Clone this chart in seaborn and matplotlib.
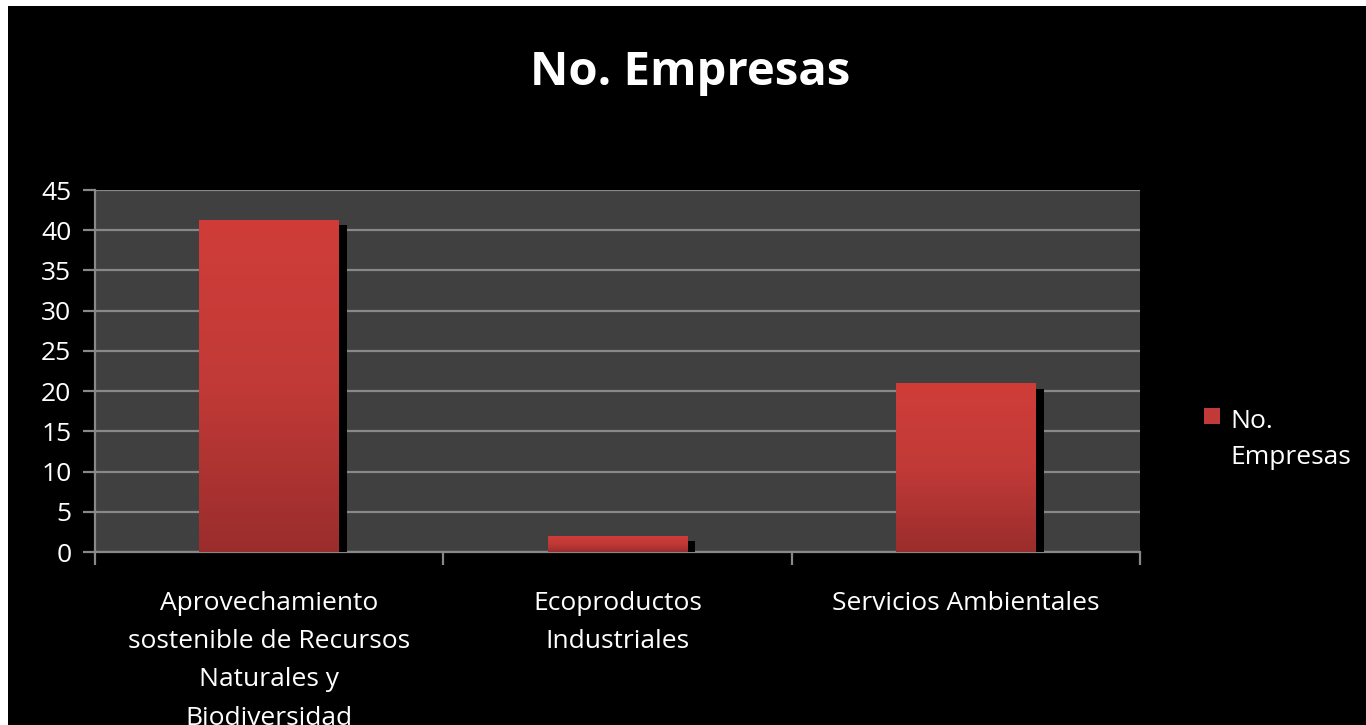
import numpy as np
import pandas as pd
import matplotlib
matplotlib.use("Agg")
import matplotlib.pyplot as plt
import matplotlib.patches as patches
import matplotlib.patheffects as pe
from matplotlib.colors import LinearSegmentedColormap
import seaborn as sns

categories = ["Aprovechamiento\nsostenible de Recursos\nNaturales y\nBiodiversidad",
              "Ecoproductos\nIndustriales",
              "Servicios Ambientales"]
values = [41.3, 2, 21]
series_name = "No. Empresas"
yticks = list(range(0, 50, 5))

df = pd.DataFrame({"categoria": categories, "valor": values})

sns.set_theme(style="dark")
plt.rcParams["font.family"] = ["Open Sans", "DejaVu Sans"]

W, H = 1366, 725
fig = plt.figure(figsize=(W / 100, H / 100), dpi=100)
fig.patch.set_facecolor("white")
# black slide background (thin white strip at top and left as in the reference)
fig.patches.append(patches.Rectangle((8 / W, 0), 1 - 8 / W, 1 - 6 / H,
                                     transform=fig.transFigure, facecolor="black",
                                     edgecolor="none", zorder=-10))

ax = fig.add_axes([95 / W, 1 - 552 / H, (1140 - 95) / W, (552 - 190) / H])
ax.set_facecolor("#404040")

sns.barplot(data=df, x="categoria", y="valor", color="#c73a37", width=0.4,
            linewidth=0, ax=ax, zorder=3)

# gradient fill + drop shadow on each bar
grad = LinearSegmentedColormap.from_list("rojo", ["#9a2d2c", "#c13a37", "#d03d39"])
for bar in ax.patches:
    bar.set_path_effects([pe.SimplePatchShadow(offset=(6, -4), shadow_rgbFace="black",
                                               alpha=1.0), pe.Normal()])
    x0, w, h = bar.get_x(), bar.get_width(), bar.get_height()
    img = ax.imshow(np.linspace(0, 1, 256).reshape(-1, 1), cmap=grad, origin="lower",
                    extent=(x0, x0 + w, 0, h), aspect="auto", zorder=4)
    img.set_clip_path(bar)

ax.set_xlim(-0.5, len(categories) - 0.5)
ax.set_ylim(0, 45)
ax.set_yticks(yticks)
ax.grid(axis="y", color="#888888", linewidth=1.6, zorder=1)
ax.grid(axis="x", visible=False)

for s in ["top", "right"]:
    ax.spines[s].set_visible(False)
for s in ["left", "bottom"]:
    ax.spines[s].set_color("#888888")
    ax.spines[s].set_linewidth(1.6)

ax.set_xticks(np.arange(-0.5, len(categories)), minor=True)
ax.tick_params(axis="x", which="major", length=0, pad=28, colors="white", labelsize=19)
ax.tick_params(axis="x", which="minor", length=9, width=1.6, color="#888888", bottom=True)
ax.tick_params(axis="y", length=9, width=1.6, color="#888888", labelcolor="white",
               labelsize=19, left=True, pad=8)
for lab in ax.get_xticklabels():
    lab.set_linespacing(1.7)
    lab.set_verticalalignment("top")

ax.set_xlabel("")
ax.set_ylabel("")

fig.suptitle(series_name, x=690 / W, y=1 - 72 / H, va="center", color="white",
             fontsize=34, fontweight="bold")

handle = patches.Patch(facecolor="#c13a37", edgecolor="none")
leg = fig.legend([handle], ["No.\nEmpresas"], loc="upper left",
                 bbox_to_anchor=(1180 / W, 1 - 385 / H), frameon=False,
                 labelcolor="white", fontsize=19, handlelength=0.6, handleheight=0.6,
                 handletextpad=0.4)
for t in leg.get_texts():
    t.set_linespacing(1.6)
# put the marker beside the first line of the label, as in the reference
for hnd in leg.legend_handles:
    hnd.set_y(hnd.get_y() + 17)

fig.savefig("out.png", dpi=100, facecolor=fig.get_facecolor())
